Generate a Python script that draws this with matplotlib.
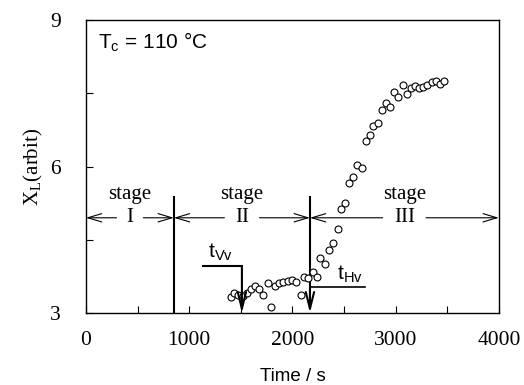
import numpy as np
import matplotlib.pyplot as plt

# data
time = [1401, 1433, 1475, 1518, 1556, 1598, 1637, 1678, 1711, 1760,
        1792, 1831, 1872, 1911, 1954, 1992, 2034, 2082, 2111, 2153,
        2196, 2234, 2266, 2315, 2356, 2395, 2438, 2467, 2508, 2550,
        2589, 2628, 2670, 2712, 2751, 2783, 2831, 2870, 2906, 2944,
        2986, 3025, 3067, 3106, 3145, 3186, 3228, 3267, 3306, 3348,
        3387, 3428, 3467]
xl = [3.33, 3.40, 3.37, 3.35, 3.40, 3.49, 3.55, 3.49, 3.36, 3.61,
      3.13, 3.55, 3.61, 3.64, 3.66, 3.68, 3.64, 3.36, 3.74, 3.71,
      3.83, 3.74, 4.12, 4.00, 4.29, 4.44, 4.73, 5.12, 5.26, 5.66,
      5.79, 6.03, 5.96, 6.53, 6.65, 6.83, 6.90, 7.16, 7.31, 7.22,
      7.53, 7.43, 7.67, 7.48, 7.60, 7.65, 7.60, 7.62, 7.67, 7.74,
      7.76, 7.69, 7.76]

stage_edges = [0, 852, 2170, 4000]
stage_names = ['I', 'II', 'III']
t_vv = 1511
t_hv = 2170

serif = 'Liberation Serif'
sans = 'Liberation Sans'

fig = plt.figure(figsize=(5.24, 3.85), dpi=100)
ax = fig.add_axes([0.164, 0.187, 0.788, 0.761])

ax.plot(time, xl, 'o', mfc='white', mec='black', ms=5, mew=0.8, zorder=3)

ax.set_xlim(0, 4000)
ax.set_ylim(3, 9)
ax.set_xticks([0, 1000, 2000, 3000, 4000])
ax.set_xticks(np.arange(500, 4000, 1000), minor=True)
ax.set_yticks([3, 6, 9])
ax.set_yticks([4.5, 7.5], minor=True)
ax.tick_params(direction='in', which='both', length=5, width=0.8,
               labelsize=15.5)
ax.tick_params(axis='x', pad=13)
ax.tick_params(axis='y', pad=18)
for lab in ax.get_xticklabels() + ax.get_yticklabels():
    lab.set_fontfamily(serif)
for s in ax.spines.values():
    s.set_linewidth(1.0)

ax.set_xlabel('Time / s', fontsize=13.5, family=sans, labelpad=13)
ax.set_ylabel(r'X$_\mathregular{L}$(arbit)', fontsize=15, family=serif, labelpad=4)

ax.text(120, 8.55, r'T$_\mathregular{c}$ = 110 °C', fontsize=15, family=sans,
        va='center', ha='left')

# stage boundaries
ya = 4.95
ax.plot([852, 852], [3, 5.37], color='black', lw=1.5)
ax.plot([t_hv, t_hv], [3.3, 5.37], color='black', lw=1.5)

aprops = dict(arrowstyle='->,head_length=1.0,head_width=0.3', lw=0.8,
              color='black', shrinkA=0, shrinkB=0)
for i, name in enumerate(stage_names):
    a, b = stage_edges[i], stage_edges[i + 1]
    mid = (a + b) / 2
    gap = 90 + 40 * len(name)
    ax.text(mid, ya, name, fontsize=15, family=serif, ha='center', va='center')
    ax.text(mid, 5.42, 'stage', fontsize=15, family=serif, ha='center', va='center')
    ax.annotate('', xy=(a, ya), xytext=(mid - gap, ya), arrowprops=aprops)
    ax.annotate('', xy=(b, ya), xytext=(mid + gap, ya), arrowprops=aprops)

# t_Vv marker
vprops = dict(arrowstyle='->,head_length=1.2,head_width=0.3', lw=1.5,
              color='black', shrinkA=0, shrinkB=0)
ax.plot([1133, t_vv], [3.96, 3.96], color='black', lw=1.5)
ax.annotate('', xy=(t_vv, 3.0), xytext=(t_vv, 3.96), arrowprops=vprops)
ax.text(1180, 4.02, r't$_\mathregular{Vv}$', fontsize=15, family=sans,
        ha='left', va='bottom')

# t_Hv marker
ax.annotate('', xy=(t_hv, 3.0), xytext=(t_hv, 3.5), arrowprops=vprops)
ax.plot([t_hv, 2702], [3.53, 3.53], color='black', lw=1.2)
ax.text(2430, 3.58, r't$_\mathregular{Hv}$', fontsize=15, family=sans,
        ha='left', va='bottom')

fig.savefig('out.png', dpi=100)
